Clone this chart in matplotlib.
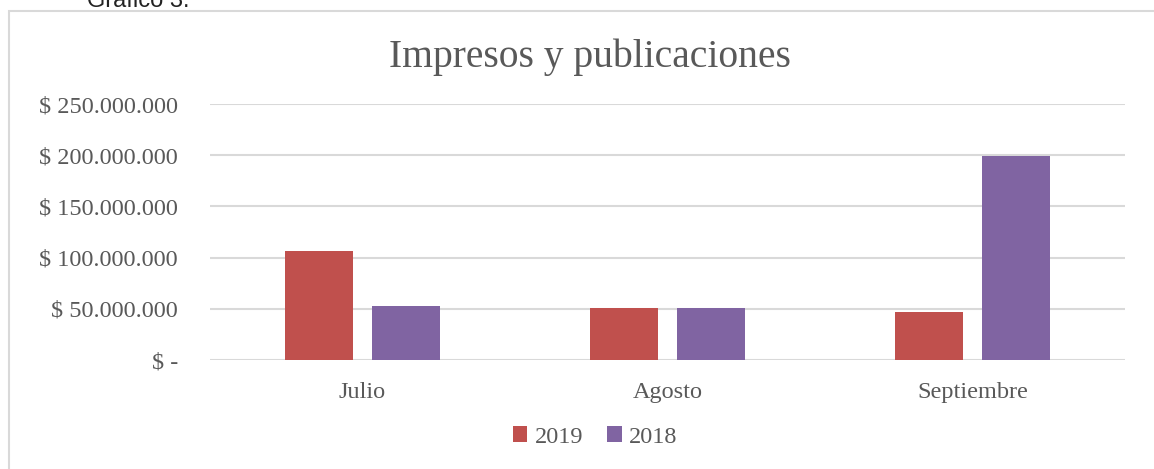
import numpy as np
import matplotlib.pyplot as plt
from matplotlib.patches import Rectangle
from matplotlib.ticker import FuncFormatter

# data
Meses = ['Julio', 'Agosto', 'Septiembre']
Series = ['2019', '2018']
v2019 = [106000000, 51000000, 46500000]
v2018 = [52500000, 50500000, 199500000]
Yticks = [0, 50000000, 100000000, 150000000, 200000000, 250000000]

RED = '#C0504D'
PURPLE = '#8064A2'
TXT = '#595959'
GRID = '#D9D9D9'
plt.rcParams['font.family'] = ['Liberation Serif', 'DejaVu Serif']

W, H = 1154, 469
fig = plt.figure(figsize=(W/100, H/100), dpi=100)
fig.patch.set_facecolor('white')

# chart frame (runs past the right and bottom edges)
fig.patches.append(Rectangle((9/W, -0.1), 1.2, 1 - 11/H + 0.1, transform=fig.transFigure,
                             fill=False, edgecolor=GRID, linewidth=1.5))
fig.text(87/W, 1 - 7/H, 'Gráfico 3.', fontsize=17, color='#222222',
         family='Liberation Sans', va='baseline', ha='left')

ax = fig.add_axes([210/W, 1 - 360/H, (1125-210)/W, (360-104)/H])

x = np.arange(len(Meses))
bw = 0.223
off = 0.142
ax.bar(x - off, v2019, bw, color=RED, label=Series[0], zorder=3)
ax.bar(x + off, v2018, bw, color=PURPLE, label=Series[1], zorder=3)

ax.set_xlim(-0.5, 2.5)
ax.set_ylim(0, 250000000)
ax.set_yticks(Yticks)

def fmt(v, pos):
    if v == 0:
        return '$ -'
    return '$ ' + '{:,.0f}'.format(v).replace(',', '.')

ax.yaxis.set_major_formatter(FuncFormatter(fmt))
ax.set_xticks(x)
ax.set_xticklabels(Meses)
ax.tick_params(axis='both', length=0, labelsize=17.5, colors=TXT)
ax.tick_params(axis='y', pad=23)
ax.tick_params(axis='x', pad=16)
ax.grid(axis='y', color=GRID, linewidth=1.5, zorder=0)
for s in ax.spines.values():
    s.set_visible(False)

fig.text(590/W, 1 - 57/H, 'Impresos y publicaciones', fontsize=28.5, color=TXT,
         ha='center', va='center')

leg = fig.legend(loc='center', bbox_to_anchor=(595/W, 1 - 437/H), ncol=2, frameon=False,
                 fontsize=17.5, handlelength=0.6, handleheight=0.6, handletextpad=0.3,
                 columnspacing=1.0)
for t in leg.get_texts():
    t.set_color(TXT)

plt.savefig('out.png', dpi=100)
